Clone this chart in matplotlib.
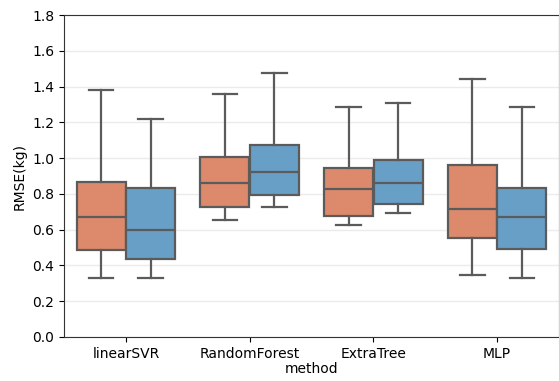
import numpy as np
import matplotlib
matplotlib.use("Agg")
import matplotlib.pyplot as plt

# values (whisker low, Q1, median, Q3, whisker high)
methods = ["linearSVR", "RandomForest", "ExtraTree", "MLP"]
orange_lo = [0.33, 0.652, 0.626, 0.345]
orange_q1 = [0.486, 0.728, 0.676, 0.553]
orange_med = [0.67, 0.862, 0.827, 0.717]
orange_q3 = [0.868, 1.008, 0.943, 0.961]
orange_hi = [1.38, 1.358, 1.284, 1.442]

blue_lo = [0.33, 0.728, 0.695, 0.328]
blue_q1 = [0.436, 0.794, 0.745, 0.494]
blue_med = [0.60, 0.92, 0.862, 0.669]
blue_q3 = [0.835, 1.075, 0.991, 0.835]
blue_hi = [1.218, 1.477, 1.308, 1.284]

yticks = [0.0, 0.2, 0.4, 0.6, 0.8, 1.0, 1.2, 1.4, 1.6, 1.8]


def make_stats(lo, q1, med, q3, hi):
    return [dict(whislo=a, q1=b, med=c, q3=d, whishi=e, fliers=[])
            for a, b, c, d, e in zip(lo, q1, med, q3, hi)]


fig = plt.figure(figsize=(5.59, 3.81), dpi=100)
ax = fig.add_axes([0.1145, 0.1155, 0.8855, 0.845])

lc = "#5b5b5b"
x = np.arange(len(methods))
for stats, off, col in [
        (make_stats(orange_lo, orange_q1, orange_med, orange_q3, orange_hi), -0.2, "#dc8a6b"),
        (make_stats(blue_lo, blue_q1, blue_med, blue_q3, blue_hi), 0.2, "#689fc7")]:
    ax.bxp(stats, positions=x + off, widths=0.396, patch_artist=True,
           showfliers=False, manage_ticks=False,
           boxprops=dict(facecolor=col, edgecolor=lc, linewidth=1.6),
           medianprops=dict(color=lc, linewidth=1.6),
           whiskerprops=dict(color=lc, linewidth=1.6),
           capprops=dict(color=lc, linewidth=1.6))

ax.set_xlim(-0.5, 3.5)
ax.set_ylim(0, 1.8)
ax.set_yticks(yticks)
ax.set_xticks(x)
ax.set_xticklabels(methods)
ax.yaxis.grid(True, color="#ebebeb", linewidth=1)
ax.set_axisbelow(True)
ax.set_ylabel("RMSE(kg)")
ax.set_xlabel("method", labelpad=1)
for s in ax.spines.values():
    s.set_color("#333333")

fig.savefig("out.png", dpi=100)
